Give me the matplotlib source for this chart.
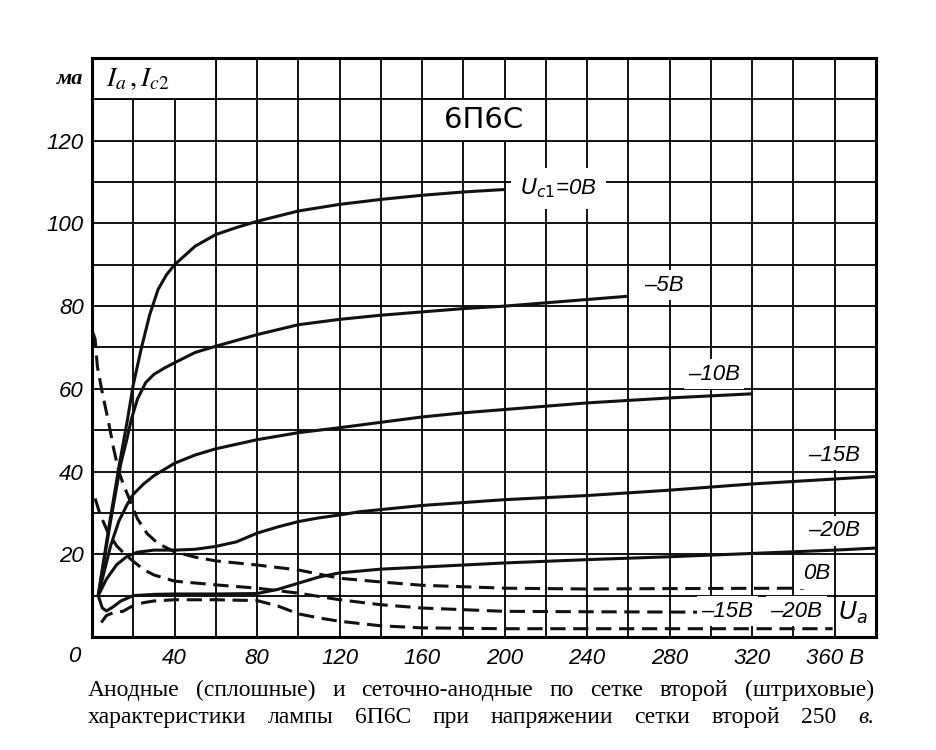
import matplotlib.pyplot as plt
import numpy as np
from matplotlib.patches import Rectangle

# anode current Ia (solid) for Uc1 = 0, -5, -10, -15, -20 V
ua_0 = [3, 8, 13, 17, 20, 24, 28, 32, 36, 40, 50, 60, 70, 80, 100, 120, 140, 160, 180, 200]
ia_0 = [10, 26, 41, 52, 61, 70, 78, 84, 87.5, 90, 94.5, 97.3, 99, 100.5, 103, 104.6, 105.8, 106.8, 107.6, 108.2]

ua_5 = [3, 9, 14, 17, 19, 22, 26, 30, 35, 40, 50, 60, 80, 100, 120, 140, 160, 180, 200, 220, 240, 260]
ia_5 = [10, 28, 42, 48, 52.5, 57.5, 61.5, 63.5, 65, 66.3, 68.8, 70.3, 73.1, 75.5, 76.8, 77.8, 78.6, 79.4, 80, 80.8, 81.6, 82.4]

ua_10 = [3, 6, 9, 13, 17, 20, 25, 30, 40, 50, 60, 80, 100, 120, 140, 160, 180, 200, 220, 240, 260, 280, 300, 320]
ia_10 = [10, 16, 22, 28, 32, 34.5, 37, 39, 42, 44, 45.5, 47.7, 49.4, 50.6, 51.9, 53.2, 54.2, 55, 55.8, 56.6, 57.2, 57.8, 58.3, 58.8]

ua_15 = [3, 7, 12, 17, 22, 30, 40, 50, 60, 70, 80, 90, 100, 110, 120, 130, 160, 200, 240, 280, 320, 360, 380]
ia_15 = [10, 14, 17.5, 19.5, 20.5, 21, 21, 21.2, 21.9, 23, 25.1, 26.6, 27.9, 28.8, 29.5, 30.3, 31.8, 33.2, 34.2, 35.5, 37, 38.2, 38.8]

ua_20 = [3, 5, 7, 10, 14, 20, 30, 40, 60, 80, 90, 100, 110, 120, 140, 160, 180, 200, 240, 280, 320, 360, 380]
ia_20 = [10, 7, 6.3, 7.2, 8.7, 10, 10.3, 10.4, 10.4, 10.5, 11.5, 13, 14.5, 15.5, 16.4, 16.9, 17.4, 17.9, 18.7, 19.4, 20.2, 21, 21.5]

# screen grid current Ic2 (dashed) for Uc1 = 0, -15, -20 V
ua_c0 = [0.5, 1.5, 2.6, 5, 8, 10.5, 13, 15.5, 18, 22, 26.7, 32, 40, 50, 60, 80, 100, 120, 140, 160, 200, 240, 280, 345]
ic_c0 = [73.5, 72, 65.4, 59, 52, 45.5, 40, 36.5, 33.5, 28.6, 25, 22.6, 20.6, 19.3, 18.4, 17.4, 16.2, 14.2, 13.3, 12.5, 11.8, 11.6, 11.7, 11.8]

ua_c15 = [1.5, 4, 8, 12, 16, 20, 25, 30, 40, 60, 80, 100, 120, 140, 160, 180, 200, 240, 296]
ic_c15 = [33.5, 29.5, 25, 22, 20, 18.3, 16.3, 15, 13.5, 12.6, 11.8, 10.6, 9, 7.8, 7, 6.6, 6.2, 6.1, 6]

ua_c20 = [4.5, 7, 10, 15, 20, 25, 30, 40, 60, 80, 90, 100, 110, 120, 140, 160, 200, 359]
ic_c20 = [3.5, 5.2, 5.8, 6.2, 7.6, 8.3, 8.7, 9, 9, 8.8, 7.5, 5.6, 4.6, 3.8, 2.7, 2.2, 2, 2]

x_ticks = [40, 80, 120, 160, 200, 240, 280, 320, 360]
x_labels = ['40', '80', '120', '160', '200', '240', '280', '320', '360 В']
y_ticks = [20, 40, 60, 80, 100, 120]
y_labels = ['20', '40', '60', '80', '100', '120']

plt.rcParams['font.family'] = ['Liberation Sans', 'DejaVu Sans']

fig = plt.figure(figsize=(9.36, 7.5), dpi=100)
ax = fig.add_axes([0.0983, 0.1507, 0.8376, 0.772])
ax.set_xlim(0, 380)
ax.set_ylim(0, 140)

ax.set_xticks(np.arange(0, 381, 20), minor=True)
ax.set_yticks(np.arange(0, 141, 10), minor=True)
ax.set_xticks(x_ticks, x_labels)
ax.set_yticks(y_ticks, y_labels)
ax.grid(which='both', color='black', lw=1.3)
ax.tick_params(which='both', length=0, labelsize=16)
ax.tick_params(axis='x', pad=8)
ax.tick_params(axis='y', pad=6)
for lab in ax.get_xticklabels() + ax.get_yticklabels():
    lab.set_style('italic')
for sp in ax.spines.values():
    sp.set_linewidth(2.2)

solid = dict(color='#111111', lw=2.2, zorder=3, solid_capstyle='butt')
dashed = dict(color='#111111', lw=2.2, zorder=3, linestyle=(0, (5, 2.5)))
ax.plot(ua_0, ia_0, **solid)
ax.plot(ua_5, ia_5, **solid)
ax.plot(ua_10, ia_10, **solid)
ax.plot(ua_15, ia_15, **solid)
ax.plot(ua_20, ia_20, **solid)
ax.plot(ua_c0, ic_c0, **dashed)
ax.plot(ua_c15, ic_c15, **dashed)
ax.plot(ua_c20, ic_c20, **dashed)

# white cells for the title box and the axis name
ax.add_patch(Rectangle((160, 120), 60, 10, facecolor='white', edgecolor='black', lw=1.3, zorder=2.5))
ax.add_patch(Rectangle((0, 130), 60, 10, facecolor='white', edgecolor='black', lw=1.3, zorder=2.5))
ax.text(190, 125, '6П6С', ha='center', va='center', fontsize=21, family='DejaVu Sans', zorder=4)
ax.text(22, 135, r'$I_a\,,I_{c2}$', ha='center', va='center', fontsize=20,
        math_fontfamily='stix', zorder=4)

lab = dict(ha='center', va='center', fontsize=16, style='italic', zorder=4,
           bbox=dict(boxstyle='square,pad=0.2', facecolor='white', edgecolor='none'))
ax.text(226, 108.5, r'$U_{c1}$=0В', **{**lab, 'bbox': dict(boxstyle='square,pad=0.4', facecolor='white', edgecolor='none')},
        math_fontfamily='dejavusans')
ax.text(277, 85, '–5В', **lab)
ax.text(301.5, 63.5, '–10В', **lab)
ax.text(359.5, 44, '–15В', **lab)
ax.text(359.5, 25.7, '–20В', **lab)
ax.text(351, 15.3, '0В', **lab)
ax.text(308, 6.2, '–15В', **lab)
ax.text(341.5, 6.2, '–20В', **lab)
ax.text(369, 5.8, r'$U_a$', ha='center', va='center', fontsize=18, zorder=4, math_fontfamily='dejavusans')

ax.text(-8.5, -4.8, '0', ha='center', va='center', fontsize=16, style='italic', clip_on=False)
ax.text(-10.5, 134.8, 'ма', ha='center', va='center', fontsize=16, style='italic',
        family='Liberation Serif', weight='bold', clip_on=False)

# justified two-line caption
caption = [
    'Анодные (сплошные) и сеточно-анодные по сетке второй (штриховые)',
    'характеристики лампы 6П6С при напряжении сетки второй 250 в.',
]
baselines = [696, 723]
renderer = fig.canvas.get_renderer()
for line, yb in zip(caption, baselines):
    words = line.split(' ')
    texts = []
    for w in words:
        t = fig.text(0, 1 - yb / 750, w, fontsize=17, family='Liberation Serif',
                     style='italic' if w == 'в.' else 'normal', va='baseline', ha='left')
        texts.append(t)
    widths = [t.get_window_extent(renderer).width for t in texts]
    gap = (874 - 88 - sum(widths)) / (len(texts) - 1)
    x = 88
    for t, w in zip(texts, widths):
        t.set_x(x / 936)
        x += w + gap

fig.savefig('out.png', dpi=100)
